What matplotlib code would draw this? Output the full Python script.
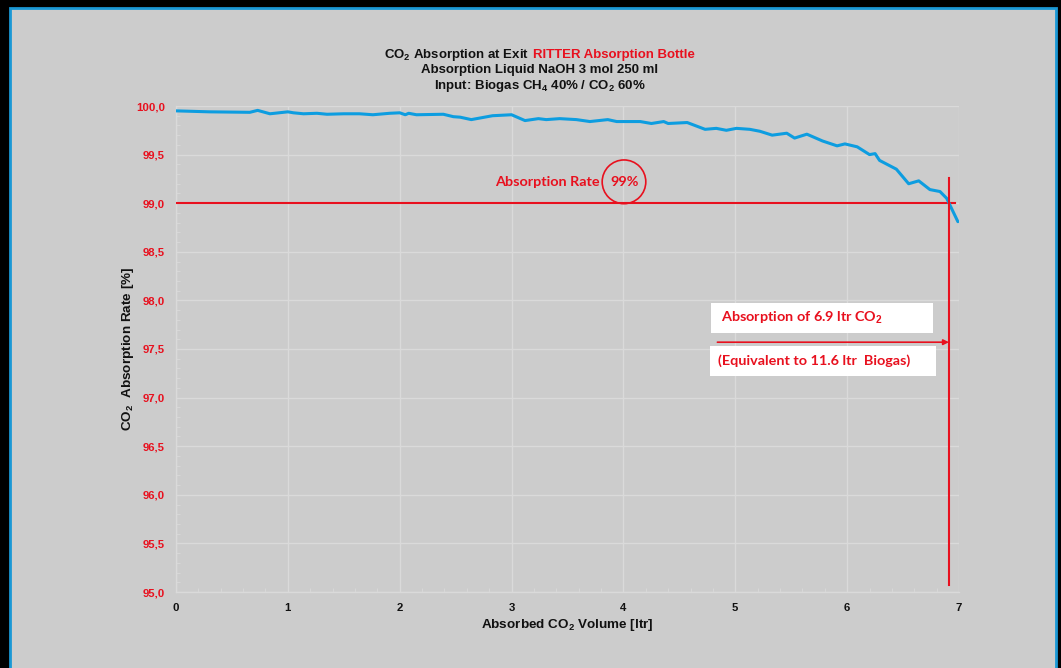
import matplotlib
matplotlib.use("Agg")
import matplotlib.pyplot as plt
from matplotlib.patches import Rectangle, Ellipse
from matplotlib.ticker import MultipleLocator, FixedLocator

plt.rcParams['font.family'] = ['Liberation Sans', 'DejaVu Sans']
plt.rcParams['mathtext.fontset'] = 'custom'
plt.rcParams['mathtext.rm'] = 'Liberation Sans:bold'
plt.rcParams['mathtext.it'] = 'Liberation Sans:bold'
plt.rcParams['mathtext.bf'] = 'Liberation Sans:bold'

# ---- data ----
volume_ltr = [0.00, 0.30, 0.66, 0.73, 0.84, 1.00, 1.05, 1.14, 1.26, 1.35, 1.50,
              1.64, 1.76, 1.91, 2.00, 2.05, 2.08, 2.15, 2.39, 2.48, 2.54, 2.64,
              2.83, 3.00, 3.12, 3.24, 3.31, 3.43, 3.58, 3.70, 3.86, 3.94, 4.15,
              4.25, 4.36, 4.40, 4.57, 4.73, 4.83, 4.92, 5.01, 5.13, 5.22, 5.33,
              5.46, 5.53, 5.64, 5.78, 5.91, 5.98, 6.09, 6.20, 6.25, 6.29, 6.44,
              6.55, 6.64, 6.74, 6.83, 6.89, 6.99]
absorption_rate = [99.95, 99.94, 99.935, 99.955, 99.92, 99.94, 99.93, 99.92, 99.925,
                   99.915, 99.92, 99.92, 99.91, 99.925, 99.93, 99.91, 99.925, 99.91,
                   99.915, 99.89, 99.885, 99.86, 99.90, 99.91, 99.85, 99.87, 99.86,
                   99.87, 99.86, 99.84, 99.86, 99.84, 99.84, 99.82, 99.84, 99.82,
                   99.83, 99.76, 99.77, 99.75, 99.77, 99.76, 99.74, 99.70, 99.72,
                   99.67, 99.71, 99.64, 99.59, 99.61, 99.58, 99.50, 99.51, 99.44,
                   99.35, 99.20, 99.23, 99.14, 99.12, 99.05, 98.81]
x_ticks = [0, 1, 2, 3, 4, 5, 6, 7]
x_tick_labels = ['0', '1', '2', '3', '4', '5', '6', '7']
y_ticks = [95.0, 95.5, 96.0, 96.5, 97.0, 97.5, 98.0, 98.5, 99.0, 99.5, 100.0]
y_tick_labels = ['95,0', '95,5', '96,0', '96,5', '97,0', '97,5', '98,0', '98,5',
                 '99,0', '99,5', '100,0']
target_rate = 99.0
absorbed_at_target = 6.91
arrow_start = 4.84
arrow_level = 97.57

W, H = 1061, 668
fig = plt.figure(figsize=(W / 100, H / 100), dpi=100)
fig.patch.set_facecolor('black')

# light gray panel with blue border
panel = Rectangle((10 / W, -0.05), (1056 - 10) / W, 1 - 8 / H + 0.05,
                  transform=fig.transFigure, facecolor='#cccccc',
                  edgecolor='#1a98d5', linewidth=2.0, zorder=-1)
fig.patches.append(panel)

ax = fig.add_axes([176 / W, 1 - 592 / H, (959 - 176) / W, (592 - 106) / H])
ax.set_zorder(1)
ax.set_facecolor('#cccccc')
ax.set_xlim(0, 7)
ax.set_ylim(95, 100)

grid_c = '#dadada'
ax.xaxis.set_major_locator(FixedLocator(x_ticks))
ax.yaxis.set_major_locator(FixedLocator(y_ticks))
ax.set_xticklabels(x_tick_labels)
ax.set_yticklabels(y_tick_labels)
ax.xaxis.set_minor_locator(MultipleLocator(0.2))
ax.yaxis.set_minor_locator(MultipleLocator(0.1))
ax.grid(True, which='major', color=grid_c, linewidth=1.0, zorder=1)
for s in ['top', 'right']:
    ax.spines[s].set_visible(False)
for s in ['left', 'bottom']:
    ax.spines[s].set_color(grid_c)
    ax.spines[s].set_linewidth(1.0)
ax.tick_params(axis='y', which='major', length=0, pad=8)
ax.tick_params(axis='x', which='major', length=0, pad=8)
ax.tick_params(axis='both', which='minor', direction='in', length=3, color=grid_c)
for lab in ax.get_yticklabels():
    lab.set_color('#e8101e')
    lab.set_fontweight('bold')
    lab.set_fontsize(8.2)
for lab in ax.get_xticklabels():
    lab.set_color('#111111')
    lab.set_fontweight('bold')
    lab.set_fontsize(8.2)

ax.plot(volume_ltr, absorption_rate, color='#0d9de0', linewidth=2.2,
        solid_capstyle='round', zorder=4)

red = '#e8101e'
ax.plot([0, 6.96], [target_rate, target_rate], color=red, linewidth=1.5, zorder=3)
ax.plot([absorbed_at_target, absorbed_at_target], [95.07, 99.26], color=red,
        linewidth=1.5, zorder=5)
ax.annotate('', xy=(absorbed_at_target, arrow_level), xytext=(arrow_start, arrow_level),
            arrowprops=dict(arrowstyle='-|>', color=red, lw=1.2,
                            mutation_scale=8, shrinkA=0, shrinkB=0), zorder=5)

# labels
ax.set_xlabel('Absorbed CO$_2$ Volume [ltr]', fontsize=9.7, fontweight='bold',
              color='#111111', labelpad=3)
ax.set_ylabel('CO$_2$  Absorption Rate [%]', fontsize=9.7, fontweight='bold',
              color='#111111')
ax.yaxis.set_label_coords((128 - 176) / (959 - 176), 0.5)
ax.yaxis.label.set_va('center')

# white boxes
ax.add_patch(Rectangle(((711 - 176) / 111.86, 100 - 333 / 97.2 + 106 / 97.2),
                       (933 - 711) / 111.86, 30 / 97.2, facecolor='white',
                       edgecolor='none', zorder=2))
ax.add_patch(Rectangle(((710 - 176) / 111.86, 100 - 376 / 97.2 + 106 / 97.2),
                       (936 - 710) / 111.86, 30 / 97.2, facecolor='white',
                       edgecolor='none', zorder=2))

ann_font = dict(family=['Lato', 'DejaVu Sans'], fontweight='bold', color=red,
                fontsize=10.4)
ax.text(3.79, 99.22, 'Absorption Rate', ha='right', va='center', zorder=6, **ann_font)
ax.text(4.01, 99.22, '99%', ha='center', va='center', zorder=6, **ann_font)
ax.add_patch(Ellipse((4.005, 99.22), 0.39, 0.45, facecolor='none', edgecolor=red,
                     linewidth=1.2, zorder=6))
ax.text((721 - 176) / 111.86, 100 - (318 - 106) / 97.2,
        r'Absorption of 6.9 ltr CO$_2$', ha='left', va='center', zorder=6, **ann_font)
ax.text((718 - 176) / 111.86, 100 - (361 - 106) / 97.2,
        '(Equivalent to 11.6 ltr  Biogas)', ha='left', va='center', zorder=6, **ann_font)

# title
tfont = dict(fontsize=9.5, fontweight='bold', va='center')
fig.text(529 / W, 1 - 55 / H, 'CO$_2$ Absorption at Exit', ha='right',
         color='#111111', **tfont)
fig.text(533 / W, 1 - 55 / H, 'RITTER Absorption Bottle', ha='left',
         color=red, **tfont)
fig.text(540 / W, 1 - 70 / H, 'Absorption Liquid NaOH 3 mol 250 ml', ha='center',
         color='#111111', **tfont)
fig.text(540 / W, 1 - 86 / H, 'Input: Biogas CH$_4$ 40% / CO$_2$ 60%', ha='center',
         color='#111111', **tfont)

fig.savefig('out.png', dpi=100, facecolor=fig.get_facecolor())
